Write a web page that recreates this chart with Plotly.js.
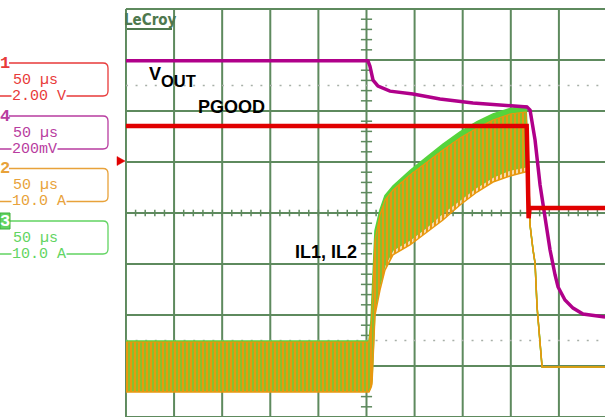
<!DOCTYPE html>
<html>
<head>
<meta charset="utf-8">
<script src="https://cdn.plot.ly/plotly-3.0.1.min.js"></script>
<style>html,body{margin:0;padding:0;background:#fff;}#chart{width:605px;height:417px;}</style>
</head>
<body>
<div id="chart"></div>
<script>
// ---------------- DATA (time in µs, t=0 at screen centre) ----------------
// Channel 4 : VOUT (V)
const voutTime = [-250, 1.5, 3.6, 6.8, 12, 24.4, 48.3, 76.4, 110.7, 138.8, 166.8, 170, 175.2, 180.4, 185.6, 190.8, 196, 199.1, 206.3, 214.7, 225, 237.5, 248];
const voutVolts = [1.005, 1.005, 0.984, 0.929, 0.906, 0.886, 0.875, 0.855, 0.839, 0.831, 0.824, 0.812, 0.694, 0.518, 0.380, 0.263, 0.165, 0.118, 0.067, 0.035, 0.012, 0.004, 0.0];

// Channel 1 : PGOOD (V)
const pgoodTime = [-250, 166.5, 167.5, 168.5, 169.5, 248];
const pgoodVolts = [3.22, 3.22, 1.6, -0.4, 0.0, 0.0];

// Channels 2/3 : inductor currents IL1, IL2 (A) – ripple envelope (max / min)
const curTime = [-250, 2.6, 4.7, 5.7, 8.8, 14.0, 19.2, 27.5, 45.2, 62.9, 79.5, 97.2, 114.9, 131.5, 149.2, 164.8, 165.8, 167.9, 170, 173.1, 175.2, 177.3, 180.4, 182.5, 248];
const il2Max = [4.90, 4.90, 9.02, 12.94, 26.5, 30.6, 33.4, 35.3, 38.3, 41.0, 43.5, 45.9, 47.9, 49.4, 50.5, 51.0, 51.0, 42.35, 27.65, 22.75, 20.2, 11.57, 4.51, -0.2, -0.2];
const il2Min = [-4.90, -4.90, -3.73, -2.75, 11.0, 15.9, 19.8, 22.75, 24.71, 27.25, 30.0, 32.55, 35.1, 37.06, 38.43, 39.02, 39.02, 42.35, 27.65, 22.75, 20.2, 11.57, 4.51, -0.2, -0.2];
const il1Max = [4.71, 4.71, 8.0, 11.0, 24.71, 29.61, 32.55, 34.51, 37.45, 40.0, 42.35, 44.71, 46.67, 48.24, 49.41, 49.8, 49.8, 42.35, 27.65, 22.75, 20.2, 11.57, 4.51, -0.2, -0.2];
const il1Min = [-5.10, -5.10, -4.2, -3.5, 10.0, 14.9, 18.8, 21.8, 23.73, 26.27, 28.63, 31.57, 34.12, 36.08, 37.25, 38.04, 38.04, 42.35, 27.65, 22.75, 20.2, 11.57, 4.51, -0.2, -0.2];

// Channel descriptor labels
const chanNumbers = ["1", "4", "2", "3"];
const chanTimebase = ["50 µs", "50 µs", "50 µs", "50 µs"];
const chanScales = ["2.00 V", "200mV", "10.0 A", "10.0 A"];
const traceLabels = ["V", "OUT", "PGOOD", "IL1, IL2"];
const logoText = "LeCroy";

// ---------------- STYLE ----------------
const C_RED = '#E00000', C_MAG = '#B0008A', C_ORG = '#E8980F', C_GRN = '#55D43C';
const L_RED = '#E83A3A', L_MAG = '#B83CA0', L_ORG = '#E8A23A', L_GRN = '#62D462';
const chanLineCol = [L_RED, L_MAG, L_ORG, L_GRN];
const GRID = '#5E8A5E';

const W = 605, H = 417, ML = 125, MT = 8;
const PW = W - ML, PH = H - MT;
const PX = p => (p - ML) / PW;
const PY = p => 1 - (p - MT) / PH;

const traces = [
  {x: curTime, y: il2Min, yaxis: 'y2', mode: 'lines', line: {color: C_GRN, width: 1.5}, hoverinfo: 'skip'},
  {x: curTime, y: il2Max, yaxis: 'y2', mode: 'lines', line: {color: C_GRN, width: 1.5}, fill: 'tonexty', fillcolor: C_GRN, hoverinfo: 'skip'},
  {x: curTime, y: il1Min, yaxis: 'y2', mode: 'lines', line: {color: C_ORG, width: 1.5}, hoverinfo: 'skip'},
  {x: curTime, y: il1Max, yaxis: 'y2', mode: 'lines', line: {color: C_ORG, width: 1.2}, fill: 'tonexty',
   fillcolor: C_ORG, fillpattern: {shape: '|', fgcolor: C_ORG, bgcolor: 'rgba(0,0,0,0)', size: 4, solidity: 0.68}, hoverinfo: 'skip'},
  {x: voutTime, y: voutVolts, yaxis: 'y3', mode: 'lines', line: {color: C_MAG, width: 3.5}, hoverinfo: 'skip'},
  {x: pgoodTime, y: pgoodVolts, yaxis: 'y4', mode: 'lines', line: {color: C_RED, width: 4.5}, hoverinfo: 'skip'}
];

// ---------------- GRID SHAPES ----------------
const shapes = [];
const XR = [-251.0, 247.9], YR = [-4.0, 4.02];
for (let k = 0; k <= 10; k++) {
  const t = -250 + 50 * k;
  shapes.push({type: 'line', xref: 'x', yref: 'y', x0: t, x1: t, y0: YR[0], y1: 4, line: {color: GRID, width: 2}, layer: 'below'});
}
for (let j = -4; j <= 4; j++) {
  shapes.push({type: 'line', xref: 'x', yref: 'y', x0: -250, x1: XR[1], y0: j, y1: j, line: {color: GRID, width: 2}, layer: 'below'});
}
for (let t = -250; t <= 250; t += 10) {
  shapes.push({type: 'line', xref: 'x', yref: 'y', x0: t, x1: t, y0: -0.065, y1: 0.065, line: {color: GRID, width: 1.5}, layer: 'below'});
}
for (let i = -20; i <= 20; i++) {
  const v = i * 0.2;
  shapes.push({type: 'line', xref: 'x', yref: 'y', x0: -5.8, x1: 5.8, y0: v, y1: v, line: {color: GRID, width: 1.5}, layer: 'below'});
}
[2.5, -2.5].forEach(v => shapes.push({type: 'line', xref: 'x', yref: 'y', x0: -250, x1: XR[1], y0: v, y1: v,
  line: {color: '#A8B0A8', width: 1.5, dash: '2px,7.6px'}, layer: 'below'}));

// masks behind trace labels
const mask = (x0, y0, x1, y1) => shapes.push({type: 'rect', xref: 'paper', yref: 'paper', x0: PX(x0), x1: PX(x1), y0: PY(y1), y1: PY(y0),
  fillcolor: '#ffffff', line: {width: 0}, layer: 'below'});
mask(146, 64, 201, 95);
mask(190, 90, 273, 120);
mask(288, 238, 360, 270);

// logo underline
shapes.push({type: 'line', xref: 'paper', yref: 'paper', x0: PX(127), x1: PX(172), y0: PY(29), y1: PY(29), line: {color: '#4E784E', width: 1.8}});

// trigger arrow
shapes.push({type: 'path', xref: 'paper', yref: 'paper',
  path: `M ${PX(117)},${PY(156.5)} L ${PX(125)},${PY(161)} L ${PX(117)},${PY(165.5)} Z`, fillcolor: C_RED, line: {color: C_RED, width: 0.5}});

// channel descriptor boxes
const boxTops = [63, 116, 168.5, 221];
const annotations = [];
const mono = 'Liberation Mono, DejaVu Sans Mono, monospace';
chanNumbers.forEach((n, i) => {
  const T = boxTops[i], B = T + 33, col = chanLineCol[i];
  shapes.push({type: 'path', xref: 'paper', yref: 'paper',
    path: `M ${PX(9)},${PY(T)} L ${PX(103)},${PY(T)} Q ${PX(108)},${PY(T)} ${PX(108)},${PY(T + 5)} L ${PX(108)},${PY(B - 5)} Q ${PX(108)},${PY(B)} ${PX(103)},${PY(B)} L ${PX(0)},${PY(B)}`,
    line: {color: col, width: 1.3}});
  if (i === 3) {
    shapes.push({type: 'rect', xref: 'paper', yref: 'paper', x0: PX(0), x1: PX(10), y0: PY(T + 8), y1: PY(T - 8), fillcolor: L_GRN, line: {color: '#3FB03F', width: 1}});
  }
  annotations.push({xref: 'paper', yref: 'paper', x: PX(4.5), y: PY(T), text: '<b>' + n + '</b>', showarrow: false,
    xanchor: 'center', yanchor: 'middle', font: {family: mono, size: 17, color: i === 3 ? '#ffffff' : col}});
  annotations.push({xref: 'paper', yref: 'paper', x: PX(10.5), y: PY(T + 17), text: chanTimebase[i], showarrow: false,
    xanchor: 'left', yanchor: 'middle', font: {family: mono, size: 15, color: col}});
  annotations.push({xref: 'paper', yref: 'paper', x: PX(10.5), y: PY(B), text: chanScales[i], showarrow: false,
    xanchor: 'left', yanchor: 'middle', bgcolor: '#ffffff', borderpad: 0, font: {family: mono, size: 15, color: col}});
});

// trace labels
const sans = 'Liberation Sans, Arial, sans-serif';
annotations.push({xref: 'paper', yref: 'paper', x: PX(154.5), y: PY(73.5), text: '<b>' + traceLabels[0] + '</b>', showarrow: false, xanchor: 'center', yanchor: 'middle', font: {family: sans, size: 18, color: '#000'}});
annotations.push({xref: 'paper', yref: 'paper', x: PX(178), y: PY(80.5), text: '<b>' + traceLabels[1] + '</b>', showarrow: false, xanchor: 'center', yanchor: 'middle', font: {family: sans, size: 16.5, color: '#000'}});
annotations.push({xref: 'paper', yref: 'paper', x: PX(231), y: PY(107), text: '<b>' + traceLabels[2] + '</b>', showarrow: false, xanchor: 'center', yanchor: 'middle', font: {family: sans, size: 18, color: '#000'}});
annotations.push({xref: 'paper', yref: 'paper', x: PX(326), y: PY(251.5), text: '<b>' + traceLabels[3] + '</b>', showarrow: false, xanchor: 'center', yanchor: 'middle', font: {family: sans, size: 18, color: '#000'}});
annotations.push({xref: 'paper', yref: 'paper', x: PX(150), y: PY(20), text: '<b>' + logoText + '</b>', showarrow: false, xanchor: 'center', yanchor: 'middle', font: {family: 'DejaVu Sans Condensed, Liberation Sans, sans-serif', size: 15, color: '#4E784E'}});

const hidden = {visible: false, fixedrange: true};
const layout = {
  width: W, height: H,
  margin: {l: ML, r: 0, t: MT, b: 0, pad: 0, autoexpand: false},
  paper_bgcolor: '#ffffff', plot_bgcolor: '#ffffff',
  showlegend: false,
  xaxis: Object.assign({range: XR}, hidden),
  yaxis: Object.assign({range: YR}, hidden),
  yaxis2: Object.assign({range: [-10.0, 70.2], overlaying: 'y'}, hidden),
  yaxis3: Object.assign({range: [-0.392, 1.212], overlaying: 'y'}, hidden),
  yaxis4: Object.assign({range: [-8.196, 7.843], overlaying: 'y'}, hidden),
  shapes: shapes,
  annotations: annotations
};
Plotly.newPlot('chart', traces, layout, {displayModeBar: false, staticPlot: true});
</script>
</body>
</html>
